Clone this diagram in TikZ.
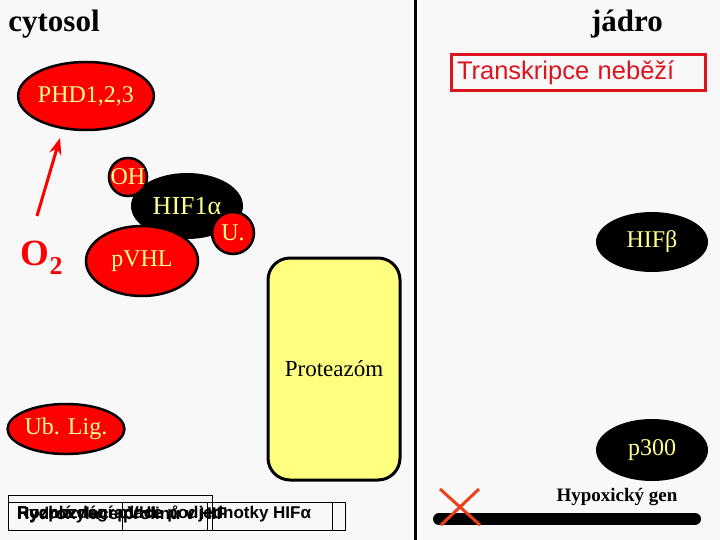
\documentclass[tikz,border=0pt]{standalone}
\usepackage{fontspec}
\setmainfont{Liberation Serif}
\newfontfamily\arialfont{Liberation Sans}
\usetikzlibrary{
	arrows.meta,
	positioning,
	shapes.geometric
}
\definecolor{bgcol}{RGB}{248,248,248}
\definecolor{molred}{RGB}{255,0,0}
\definecolor{labyellow}{RGB}{255,255,140}
\definecolor{boxred}{RGB}{220,20,30}
\definecolor{crossred}{RGB}{236,64,24}
\definecolor{protyellow}{RGB}{255,255,128}

\begin{document}
\begin{tikzpicture}[
		x=1pt,y=-1pt,
		>=Stealth,
		redmol/.style={
			ellipse,
			draw=black,
			line width=2.5pt,
			fill=molred,
			inner sep=0pt,
			text=labyellow,
			font=\fontsize{24}{26}\selectfont
		},
		redsmall/.style={
			redmol,
			circle,
			minimum size=38pt
		},
		blackmol/.style={
			ellipse,
			fill=black,
			inner sep=0pt,
			text=labyellow,
			font=\fontsize{24}{26}\selectfont
		},
		heading/.style={
			font=\fontsize{31}{33}\selectfont\bfseries
		},
		legend/.style={
			anchor=west,
			inner sep=0pt,
			font=\arialfont\fontsize{17}{19}\selectfont\bfseries
		}
		]
		
		% Background
		\fill[bgcol] (0,0) rectangle (720,540);
		\useasboundingbox (0,0) rectangle (720,540);
		\draw[line width=3pt] (415,0) -- (415,540);
		
		% Headings
		\node[heading] (cyto) at (54,24) {cytosol};
		\node[heading] (jadro) at (627,24) {jádro};
		\node[draw=boxred,line width=3pt,text=boxred,text width=242pt,align=left,inner xsep=6pt,
			minimum height=36pt,font=\arialfont\fontsize{25.5}{27}\selectfont] (trans) at (578,73) {Transkripce neběží};
		
		% Cytosol
		\node[redmol,minimum width=112pt,minimum height=68pt] (phd) at (86,96) {PHD1,2,3};
		\node[text=molred,font=\fontsize{37}{39}\selectfont\bfseries] (o2) at (42,258) {O\textsubscript{2}};
		\coordinate (o2top) at (37,216);
		\coordinate (phdlow) at (60,138);
		\draw[->,molred,line width=3pt] (o2top) -- (phdlow);
		
		\node[blackmol,minimum width=112pt,minimum height=66pt,font=\fontsize{26}{28}\selectfont] (hif) at (187,206) {HIF1α};
		\node[redmol,minimum width=112pt,minimum height=70pt] (vhl) at (142,261) {pVHL};
		\node[redsmall] (oh) at (128,177) {OH};
		\node[redsmall,minimum size=42pt] (ub) at (233,233) {U.};
		\node[redmol,minimum width=106pt,minimum height=50pt] (lig) at (66,429) {Ub. Lig.};
		
		% Proteasome
		\node[draw,line width=3pt,fill=protyellow,rounded corners=22pt,minimum width=132pt,
			minimum height=222pt,font=\fontsize{23}{25}\selectfont] (prot) at (334,369) {Proteazóm};
		
		% Nucleus
		\node[blackmol,minimum width=112pt,minimum height=60pt] (hifb) at (652,242) {HIFβ};
		\node[blackmol,minimum width=112pt,minimum height=62pt] (p300) at (652,450) {p300};
		\node[font=\fontsize{19}{21}\selectfont\bfseries] (gen) at (617,497) {Hypoxický gen};
		\coordinate (genl) at (439,519);
		\coordinate (genr) at (695,519);
		\draw[line width=12pt,line cap=round] (genl) -- (genr);
		\draw[crossred,line width=3pt] (440,489) -- (480,525) (479,489) -- (441,525);
		
		% Legend
		\draw[line width=0.8pt] (8,495) rectangle (212,530);
		\draw[line width=0.8pt] (8,502) rectangle (345,530);
		\foreach \x in {122,207,332}
		\draw[line width=0.8pt] (\x,502) -- (\x,530);
		\node[legend] (leg1) at (17,514) {Rychlá degradace podjednotky HIFα};
		\node[legend] (leg2) at (17,514) {Hydroxylace prolinů v HIF};
		\node[legend] (leg3) at (17,514) {Rozpoznání pVHL};
		
	\end{tikzpicture}
\end{document}
